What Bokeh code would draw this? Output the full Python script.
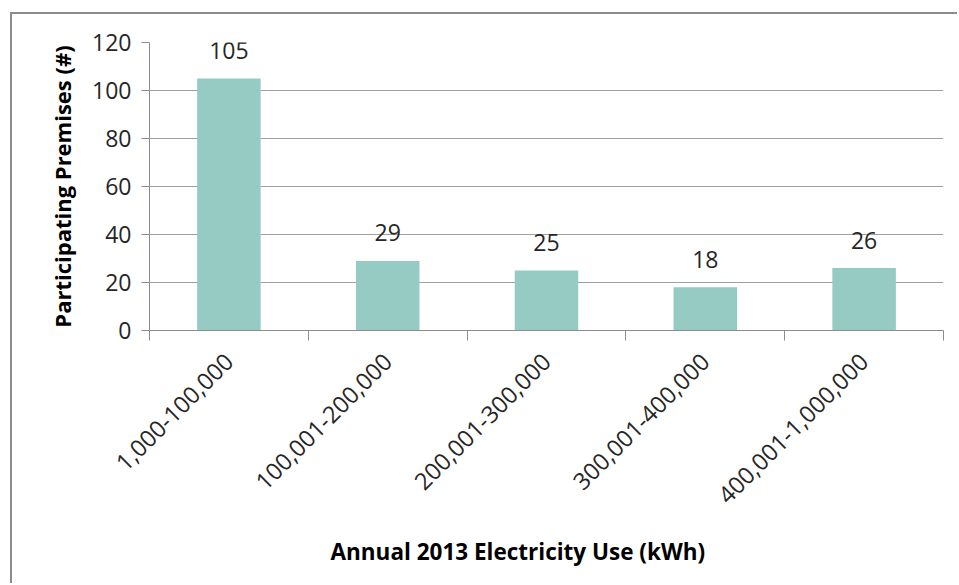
import math
from bokeh.plotting import figure
from bokeh.models import FixedTicker, Title, ColumnDataSource, Range1d
from bokeh.core.properties import value
from bokeh.embed import file_html
from bokeh.resources import INLINE

# Premises by annual 2013 electricity use bracket
categories = ["1,000-100,000", "100,001-200,000", "200,001-300,000",
              "300,001-400,000", "400,001-1,000,000"]
premises = [105, 29, 25, 18, 26]
y_ticks = [0, 20, 40, 60, 80, 100, 120]

FONT = "Open Sans"
BAR = "#96cbc3"
GRID = "#a0a0a0"
AXIS = "#8c8c8c"

centers = [i + 0.5 for i in range(len(categories))]
src = ColumnDataSource(dict(
    x=centers, top=premises, label=[str(v) for v in premises]))

p = figure(width=947, height=571, output_backend="svg", toolbar_location=None,
           x_range=Range1d(0, len(categories)), y_range=Range1d(0, 120),
           min_border_left=137, min_border_right=16,
           min_border_top=28, min_border_bottom=255)
p.styles = {"margin-left": "10px", "margin-top": "12px",
            "border-left": "2px solid #8c8c8c", "border-top": "2px solid #8c8c8c"}
p.outline_line_color = None
p.background_fill_color = "white"
p.border_fill_color = "white"

p.vbar(x="x", top="top", bottom=0, width=0.4, source=src,
       fill_color=BAR, line_color=None)
p.text(x="x", y="top", text="label", source=src, text_align="center",
       text_baseline="alphabetic", y_offset=-28,
       text_font=value(FONT), text_font_size="23px", text_color="#262626")

# y axis
p.yaxis.ticker = FixedTicker(ticks=y_ticks)
p.yaxis.axis_line_color = AXIS
p.yaxis.major_tick_line_color = AXIS
p.yaxis.major_tick_out = 8
p.yaxis.major_tick_in = 0
p.yaxis.minor_tick_line_color = None
p.yaxis.major_label_text_font = FONT
p.yaxis.major_label_text_font_size = "23px"
p.yaxis.major_label_text_color = "#262626"
p.yaxis.major_label_standoff = 10
p.yaxis.axis_label = "Participating Premises (#)"
p.yaxis.axis_label_text_font = FONT
p.yaxis.axis_label_text_font_style = "bold"
p.yaxis.axis_label_text_font_size = "22px"
p.yaxis.axis_label_text_color = "black"
p.yaxis.axis_label_standoff = 12

# x axis: labels at category centres, tick marks at category boundaries
p.xaxis.ticker = FixedTicker(ticks=centers,
                             minor_ticks=list(range(len(categories) + 1)))
p.xaxis.major_label_overrides = {c: lab for c, lab in zip(centers, categories)}
p.xaxis.major_tick_line_color = None
p.xaxis.minor_tick_line_color = AXIS
p.xaxis.minor_tick_out = 10
p.xaxis.minor_tick_in = 0
p.xaxis.axis_line_color = AXIS
p.xaxis.major_label_orientation = math.pi / 4
p.xaxis.major_label_text_font = FONT
p.xaxis.major_label_text_font_size = "23.5px"
p.xaxis.major_label_text_color = "#262626"
p.xaxis.major_label_standoff = 17

p.xgrid.grid_line_color = None
p.ygrid.ticker = FixedTicker(ticks=y_ticks)
p.ygrid.grid_line_color = GRID

p.add_layout(Title(text="Annual 2013 Electricity Use (kWh)", align="left",
                   offset=181, standoff=38,
                   text_font=FONT, text_font_style="bold",
                   text_font_size="22.5px", text_color="black"), "below")

open("out.html", "w").write(file_html(p, INLINE))
